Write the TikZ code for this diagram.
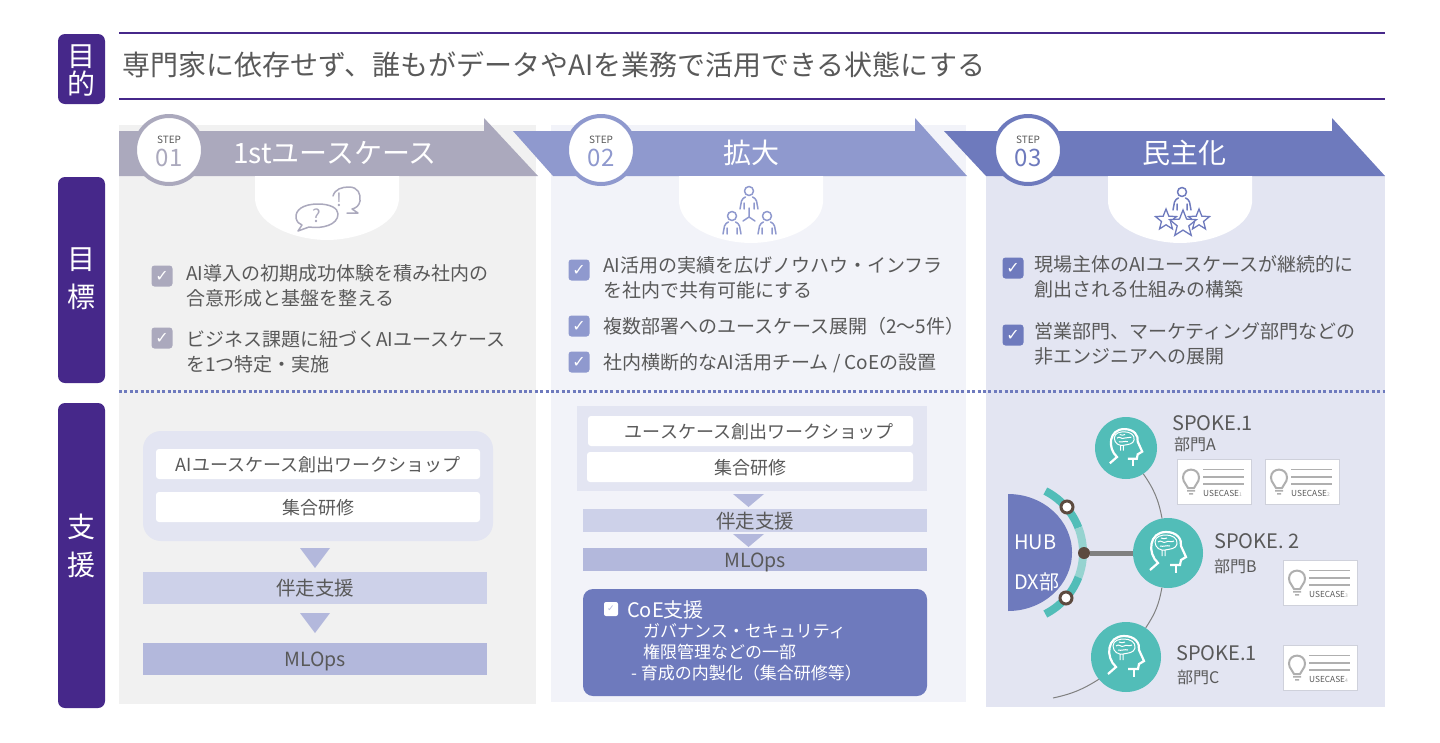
\documentclass[tikz,border=0pt]{standalone}
\usepackage{fontspec}
\setmainfont{Noto Sans CJK JP}
\newfontfamily\symfont{DejaVu Sans}
\usetikzlibrary{positioning,shapes.geometric,calc}
\definecolor{labelpurple}{HTML}{46288A}
\definecolor{textgrey}{HTML}{595959}
\definecolor{stepa}{HTML}{ABA9BD}
\definecolor{stepb}{HTML}{8F99CE}
\definecolor{stepc}{HTML}{6E7ABD}
\definecolor{panela}{HTML}{F1F1F1}
\definecolor{panelb}{HTML}{F2F3F9}
\definecolor{panelc}{HTML}{E3E5F2}
\definecolor{bandlight}{HTML}{CDD1E9}
\definecolor{bandmid}{HTML}{B3B8DC}
\definecolor{teal}{HTML}{52BDB8}
\definecolor{teallight}{HTML}{96D3D0}
\definecolor{brown}{HTML}{5C4A3F}
\definecolor{cardgrey}{HTML}{AFAFAF}
\tikzset{
  labelbox/.style={fill=labelpurple,rounded corners=7pt,minimum width=47pt,inner sep=0pt},
  labeltext/.style={text=white,inner sep=0pt,align=center,font=\fontsize{28}{33}\selectfont},
  body/.style={anchor=west,inner sep=0pt,text=textgrey,align=left,font=\fontsize{19}{25}\selectfont},
  head/.style={text=white,inner sep=0pt,font=\fontsize{28}{32}\selectfont},
  stepnum/.style={circle,draw=#1,fill=white,line width=4pt,minimum size=68pt,inner sep=0pt,text=#1,align=center,
    font=\fontsize{24}{20}\selectfont},
  steptag/.style={inner sep=0pt,text=textgrey,font=\fontsize{10}{12}\selectfont},
  whitebar/.style={fill=white,rounded corners=3pt,minimum height=30pt,inner sep=0pt,text=textgrey,text height=18pt,text depth=3pt,font=\fontsize{18}{20}\selectfont},
  band/.style={fill=#1,inner sep=0pt,text=textgrey,text height=19pt,text depth=4pt,font=\fontsize{19.5}{22}\selectfont},
  down/.style={fill=bandmid,draw=none},
  tick/.style={fill=#1,rounded corners=3pt,minimum size=21pt,inner sep=0pt,text=white,font=\symfont\fontsize{16}{16}\selectfont},
  spoke/.style={circle,fill=teal,inner sep=0pt,minimum size=#1},
  spoketext/.style={anchor=west,inner sep=0pt,text=textgrey,font=\fontsize{20}{22}\selectfont},
  deptext/.style={anchor=west,inner sep=0pt,text=textgrey,font=\fontsize{16}{18}\selectfont},
  joint/.style={circle,fill=white,draw=brown,line width=3pt,minimum size=12pt,inner sep=0pt},
  icon/.style={draw=#1,line width=1.5pt,line cap=round,line join=round},
  brainhead/.pic={
    \draw[white,line width=2.2pt,line join=miter] (-18,17) -- (-10,10) .. controls (-21,0) and (-19,-21) .. (-2,-21)
      .. controls (9,-21) and (14,-14) .. (13,-7) -- (18,4) -- (13,7) -- (12,12) -- (2,12);
    \draw[white,line width=2.2pt] (8,12) -- (8,20);
    \draw[white,line width=1pt,line join=round] (-13,-11) .. controls (-13,-17) and (-6,-18) .. (-2,-18)
      .. controls (4,-18) and (10,-15) .. (9,-9) .. controls (8,-4) and (2,-4) .. (-3,-3)
      .. controls (-7,-2) and (-13,-5) .. (-13,-11)
      (-10,-11) .. controls (-7,-14) and (-5,-9) .. (-2,-11) .. controls (0,-13) and (3,-10) .. (6,-12)
      (-7,-15) .. controls (-5,-13) and (-3,-15) .. (-1,-15)
      (-8,-7) .. controls (-5,-6) and (-1,-8) .. (2,-7)
      (-6,-3) -- (-6,3) (-3,-3) -- (-3,3);
  },
  person/.pic={
    \draw[icon=#1] (0,0) circle (4.5);
    \draw[icon=#1] (-9,18) -- (-7.5,10) .. controls (-7,7.5) and (-5,7) .. (-3.5,6)
      (9,18) -- (7.5,10) .. controls (7,7.5) and (5,7) .. (3.5,6) (-5,12) -- (-5,18) (5,12) -- (5,18);
  },
  usecase/.pic={
    \node[fill=white,draw=panelc!80!gray,line width=.8pt,minimum width=74pt,minimum height=45pt,inner sep=0pt,anchor=north west] (-box) at (0,0) {};
    \fill[cardgrey] (10,31) rectangle (18,32.5) (12,34) rectangle (16,35.5);
    \draw[cardgrey,line width=2pt] (11,29) .. controls (10,25) and (6,24) .. (6,18.5) .. controls (6,8) and (22,8) .. (22,18.5)
      .. controls (22,24) and (18,25) .. (17,29) -- cycle;
    \draw[cardgrey,line width=1.8pt] (26,10.5) -- (67,10.5) (26,18) -- (67,18) (26,25) -- (67,25);
    \node[anchor=west,inner sep=0pt,text=textgrey,font=\fontsize{8.3}{8}\selectfont] (-name) at (26,34) {USECASE{\fontsize{5}{5}\selectfont\textcolor{cardgrey}{#1}}};
  }
}
\begin{document}
\begin{tikzpicture}[x=1pt,y=-1pt]
\useasboundingbox (0,0) rectangle (1440,742);

\node[labelbox,minimum height=70pt] (goal) at (81.5,69) {};
\node[labeltext] (goaltext) at (81.5,71) {目\\[-5pt]的};
\node[labelbox,minimum height=206pt] (target) at (81.5,280) {};
\node[labeltext] (targettext) at (81.5,279) {目\\[5pt]標};
\node[labelbox,minimum height=305pt] (support) at (81.5,555.5) {};
\node[labeltext] (supporttext) at (81.5,546) {支\\[5pt]援};
\draw[labelpurple,line width=1.6pt] (119,33) -- (1385,33) (119,99) -- (1385,99);
\node[anchor=west,inner sep=0pt,text=textgrey,font=\fontsize{28}{30}\selectfont] (title) at (122,65) {専門家に依存せず、誰もがデータやAIを業務で活用できる状態にする};

\fill[panela] (119,125) rectangle (536,704);
\fill[panelb] (551,125) rectangle (966,702);
\fill[panelc] (986,176) rectangle (1385,707);

\fill[stepa] (119,131) -- (484,131) -- (484,118) -- (538,176) -- (119,176) -- cycle;
\fill[stepb] (513,131) -- (915,131) -- (915,118) -- (967,176) -- (553,176) -- cycle;
\fill[stepc] (944,131) -- (1332,131) -- (1332,118) -- (1385,176) -- (986,176) -- cycle;

\node[stepnum=stepa] (step1) at (169,150) {};
\node[stepnum=stepb] (step2) at (601,150) {};
\node[stepnum=stepc] (step3) at (1028,150) {};
\node[steptag] (tag1) at (169,140) {STEP};
\node[steptag] (tag2) at (601,140) {STEP};
\node[steptag] (tag3) at (1028,140) {STEP};
\node[inner sep=0pt,text=stepa,font=\fontsize{24}{26}\selectfont] (num1) at (169,158) {01};
\node[inner sep=0pt,text=stepb,font=\fontsize{24}{26}\selectfont] (num2) at (601,158) {02};
\node[inner sep=0pt,text=stepc,font=\fontsize{24}{26}\selectfont] (num3) at (1028,158) {03};
\node[head] (head1) at (335,153) {1stユースケース};
\node[head] (head2) at (751,153) {拡大};
\node[head] (head3) at (1184,153) {民主化};

\fill[white] (255,176) -- (255,200) .. controls (258,228) and (300,240) .. (327,240) .. controls (354,240) and (396,228) .. (399,200) -- (399,176) -- cycle;
\fill[white] (679,176) -- (679,203) .. controls (682,231) and (724,243) .. (751,243) .. controls (778,243) and (820,231) .. (823,203) -- (823,176) -- cycle;
\fill[white] (1108,176) -- (1108,203) .. controls (1111,231) and (1153,243) .. (1180,243) .. controls (1207,243) and (1249,231) .. (1252,203) -- (1252,176) -- cycle;

\draw[icon=stepa,fill=white] (333,196) .. controls (335,189) and (342,187) .. (349,187) .. controls (358,187) and (361,194) .. (360,201) .. controls (359,206) and (356,208) .. (352,209) -- (358,213) -- (347,213);
\draw[icon=stepa,fill=white] (318,204) .. controls (303,204) and (295,210) .. (296,218) .. controls (297,222) and (299,224) .. (302,225) -- (298,231) -- (309,227) .. controls (322,229) and (338,225) .. (338,214) .. controls (338,208) and (330,204) .. (318,204) -- cycle;
\node[inner sep=0pt,text=stepa,font=\fontsize{18}{18}\selectfont] (ask) at (317,216) {?};
\node[inner sep=0pt,text=stepa,font=\fontsize{18}{18}\selectfont] (bang) at (339,200) {!};

\pic at (749,191) {person=stepb};
\pic at (732,216) {person=stepb};
\pic at (767,216) {person=stepb};
\draw[icon=stepb] (749,208) -- (749,217) -- (743,221) (749,217) -- (755,221);

\pic at (1182,192) {person=stepc};
\node[star,star points=5,star point ratio=2.3,draw=stepc,fill=white,line width=1.3pt,minimum size=22pt,inner sep=0pt] (starl) at (1166,220) {};
\node[star,star points=5,star point ratio=2.3,draw=stepc,fill=white,line width=1.3pt,minimum size=22pt,inner sep=0pt] (starr) at (1199,220) {};
\node[star,star points=5,star point ratio=2.3,draw=stepc,fill=white,line width=1.3pt,minimum size=28pt,inner sep=0pt] (starm) at (1183,224) {};

\node[tick=stepa] (tick11) at (162,276) {✓};
\node[body] (text11) at (186,286) {AI導入の初期成功体験を積み社内の\\合意形成と基盤を整える};
\node[tick=stepa] (tick12) at (162,338) {✓};
\node[body] (text12) at (186,352) {ビジネス課題に紐づくAIユースケース\\を1つ特定・実施};

\node[tick=stepb] (tick21) at (579,270) {✓};
\node[body] (text21) at (603,278) {AI活用の実績を広げノウハウ・インフラ\\を社内で共有可能にする};
\node[tick=stepb] (tick22) at (579,326) {✓};
\node[body] (text22) at (603,326) {複数部署へのユースケース展開（2〜5件）};
\node[tick=stepb] (tick23) at (579,362) {✓};
\node[body] (text23) at (603,363) {社内横断的なAI活用チーム / CoEの設置};

\node[tick=stepc] (tick31) at (1013,268) {✓};
\node[body] (text31) at (1034,277) {現場主体のAIユースケースが継続的に\\創出される仕組みの構築};
\node[tick=stepc] (tick32) at (1013,335) {✓};
\node[body] (text32) at (1034,344) {営業部門、マーケティング部門などの\\非エンジニアへの展開};

\draw[stepc,line width=3pt,dash pattern=on 3pt off 2.4pt] (119,391) -- (1385,391);

\fill[panelc,rounded corners=18pt] (143,431) rectangle (493,541);
\node[whitebar,minimum width=324pt] (ws1) at (318,464) {AIユースケース創出ワークショップ};
\node[whitebar,minimum width=324pt] (train1) at (318,507) {集合研修};
\fill[down] (300,548) -- (330,548) -- (315,568) -- cycle;
\node[band=bandlight,minimum width=344pt,minimum height=32pt] (run1) at (315,588) {伴走支援};
\fill[down] (300,613) -- (330,613) -- (315,633) -- cycle;
\node[band=bandmid,minimum width=344pt,minimum height=32pt] (ml1) at (315,659) {MLOps};

\fill[panelc] (577,406) rectangle (927,491);
\node[whitebar,minimum width=325pt] (ws2) at (750.5,431) {\hspace*{17pt}ユースケース創出ワークショップ};
\node[whitebar,minimum width=326pt] (train2) at (750,467) {集合研修};
\fill[down] (733,494) -- (764,494) -- (748.5,507) -- cycle;
\node[band=bandlight,minimum width=344pt,minimum height=23pt] (run2) at (755,520.5) {伴走支援};
\fill[down] (733,534) -- (764,534) -- (748.5,547) -- cycle;
\node[band=bandmid,minimum width=344pt,minimum height=23pt] (ml2) at (755,559.5) {MLOps};
\fill[stepc,rounded corners=10pt] (583,589) rectangle (927,696);
\node[fill=white,rounded corners=2pt,minimum size=14pt,inner sep=0pt,text=bandmid,font=\symfont\fontsize{9}{9}\selectfont] (tickcoe) at (611,609) {✓};
\node[anchor=west,inner sep=0pt,text=white,font=\fontsize{20}{22}\selectfont] (coe) at (627,610) {CoE支援};
\node[anchor=west,inner sep=0pt,text=white,align=left,font=\fontsize{17}{21}\selectfont] (coesub) at (643,642) {ガバナンス・セキュリティ\\権限管理などの一部};
\node[anchor=west,inner sep=0pt,text=white,font=\fontsize{17}{20}\selectfont] (coelast) at (631,673) {- 育成の内製化（集合研修等）};

\fill[stepc] (1008,494) arc (-90:90:64 and 58.5) -- cycle;
\node[anchor=west,inner sep=0pt,text=white,font=\fontsize{20}{22}\selectfont] (hub) at (1014,542) {HUB};
\node[anchor=west,inner sep=0pt,text=white,font=\fontsize{20}{22}\selectfont] (dx) at (1014,582) {DX部};
\draw[teal,line width=8pt] (1014,552.5) ++(-63:69) arc (-63:-21:69);
\draw[teallight,line width=8pt] (1014,552.5) ++(-21:69) arc (-21:21:69);
\draw[teal,line width=8pt] (1014,552.5) ++(21:69) arc (21:63:69);

\node[spoke=62pt] (spokeA) at (1126,448) {};
\node[spoke=70pt] (spokeB) at (1168,553) {};
\node[spoke=70pt] (spokeC) at (1126,657) {};
\coordinate (arcend) at (1053,698);
\node[joint] (jointA) at (1067,507) {};
\node[joint] (jointC) at (1066,598) {};
\node[circle,fill=brown,minimum size=12pt,inner sep=0pt] (jointB) at (1084,553) {};
\draw[gray,line width=1pt] (spokeA) to[bend left=12] (spokeB);
\draw[gray,line width=1pt] (spokeB) to[bend left=12] (spokeC);
\draw[gray,line width=1pt] (spokeC) to[bend left=10] (arcend);
\draw[gray,line width=5pt] (jointB) -- (spokeB);
\pic[scale=.9] at (1126,448) {brainhead};
\pic at (1168,553) {brainhead};
\pic at (1126,657) {brainhead};

\node[spoketext] (nameA) at (1172,423) {SPOKE.1};
\node[deptext] (deptA) at (1174,444) {部門A};
\node[spoketext] (nameB) at (1214,541) {SPOKE. 2};
\node[deptext] (deptB) at (1214,566) {部門B};
\node[spoketext] (nameC) at (1176,653) {SPOKE.1};
\node[deptext] (deptC) at (1177,677) {部門C};

\pic (cardA) at (1177,459) {usecase=1};
\pic (cardD) at (1265,459) {usecase=2};
\pic (cardB) at (1283,560) {usecase=3};
\pic (cardC) at (1283,645) {usecase=4};
\end{tikzpicture}
\end{document}
